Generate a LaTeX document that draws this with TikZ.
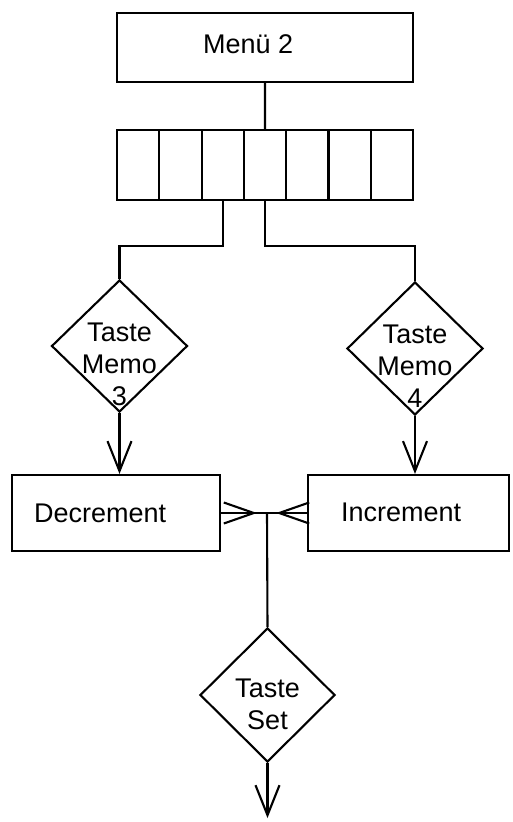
\documentclass[tikz,border=0pt]{standalone}
\usepackage{fontspec}
\setmainfont{Liberation Sans}
\usetikzlibrary{shapes.geometric,arrows.meta}
\begin{document}
\begin{tikzpicture}[x=1pt,y=-1pt, line width=2.1pt,
  box/.style={draw, rectangle, inner sep=0pt},
  cell/.style={draw, rectangle, inner sep=0pt, minimum width=42.29pt, minimum height=70pt},
  dia/.style={draw, diamond, inner sep=0pt, minimum width=136pt, minimum height=133pt},
  txt/.style={font=\fontsize{27}{32}\selectfont, inner sep=0pt, align=center},
  arr/.style={-{Straight Barb[length=30pt,width=24pt]}},
  harr/.style={-{Straight Barb[length=30pt,width=21pt]}},
  ]
\useasboundingbox (0,0) rectangle (512,822);
% top box
\node[box, minimum width=296pt, minimum height=69pt] (menu) at (265,47.5) {};
\node[txt, anchor=base west] (menut) at (202,53) {Menü 2};
% cells
\foreach \i in {1,...,7}
  \node[cell] (c\i) at ({117+(\i-0.5)*42.29},165) {};
% diamonds
\node[dia, minimum height=132pt] (d3) at (119.5,346) {};
\node[txt] (t3) at (119.5,364) {Taste\\Memo\\3};
\node[dia] (d4) at (415,348.5) {};
\node[txt] (t4) at (415,366) {Taste\\Memo\\4};
% action boxes
\node[box, minimum width=208pt, minimum height=76pt] (dec) at (116,513) {};
\node[txt, anchor=base west] (dect) at (33,522) {Decrement};
\node[box, minimum width=201pt, minimum height=76pt] (inc) at (408.5,513) {};
\node[txt, anchor=base west] (inct) at (340,521) {Increment};
\coordinate (j) at (267,513);
\coordinate (jl) at (257,513);
\coordinate (jr) at (276,513);
% set diamond
\node[dia, minimum width=135pt, minimum height=134pt] (dset) at (267.5,695) {};
\node[txt] (tset) at (267.5,704.5) {Taste\\Set};
\coordinate (end) at (267.5,818);
% connectors
\draw (menu.south) -- (c4.north);
\draw (c3.south) -- ++(0,45) -| (d3.north);
\draw (c4.south) -- ++(0,45) -| (d4.north);
\draw[arr] (d3.south) -- (d3.south |- dec.north);
\draw[arr] (d4.south) -- (d4.south |- inc.north);
\draw[harr] (dec.east) -- (jl);
\draw[harr] (inc.west) -- (jr);
\draw (dec.east) -- (inc.west);
\draw (j) -- (dset.north);
\draw[arr] (dset.south) -- (end);
\end{tikzpicture}
\end{document}
